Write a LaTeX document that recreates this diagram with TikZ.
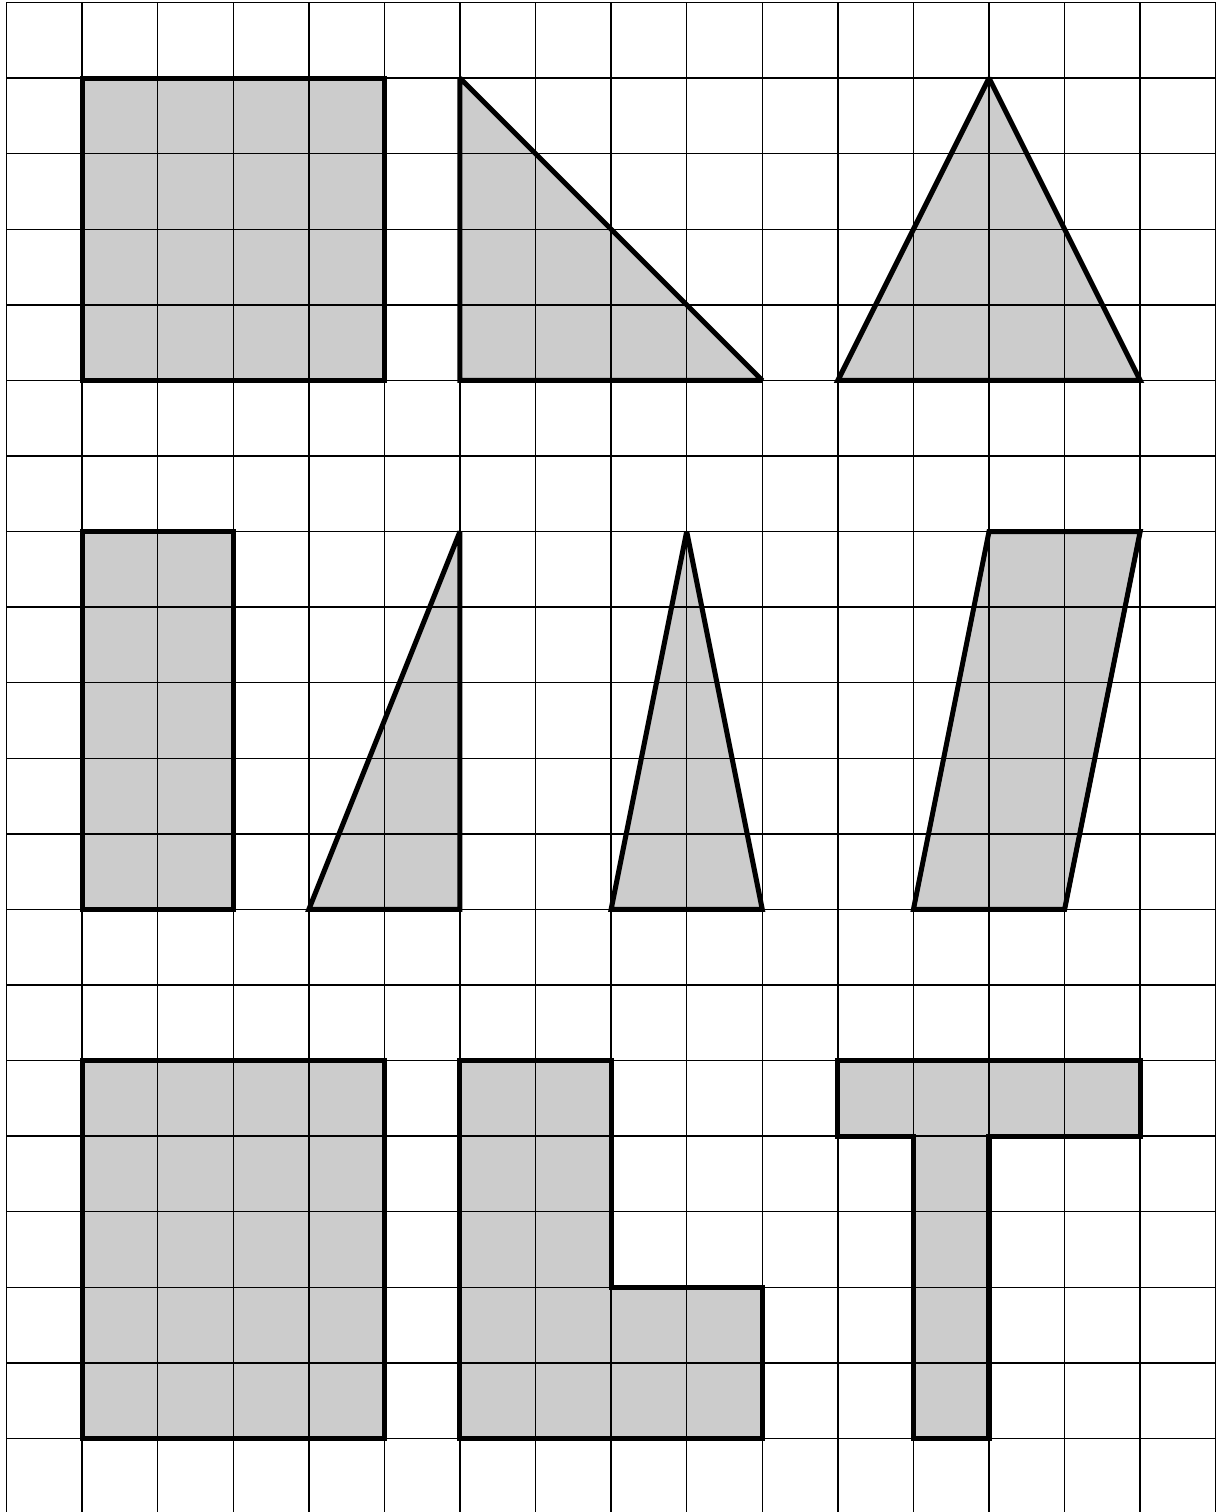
\documentclass[tikz,border=0pt]{standalone}
\begin{document}
\begin{tikzpicture}[x=1cm,y=-1cm,
  shapefill/.style={fill=black!20},
  gridline/.style={draw=black,line width=0.55pt},
  outline/.style={draw=black,line width=1.9pt,miter limit=2}]
\useasboundingbox (-0.086,-0.033) rectangle (16.097,19.973);
\begin{scope}
\clip (-0.086,-0.033) rectangle (16.097,19.973);
% fills
\fill[shapefill] (1,1) rectangle (5,5);
\fill[shapefill] (6,1) -- (6,5) -- (10,5) -- cycle;
\fill[shapefill] (11,5) -- (13,1) -- (15,5) -- cycle;
\fill[shapefill] (1,7) rectangle (3,12);
\fill[shapefill] (4,12) -- (6,7) -- (6,12) -- cycle;
\fill[shapefill] (8,12) -- (9,7) -- (10,12) -- cycle;
\fill[shapefill] (12,12) -- (13,7) -- (15,7) -- (14,12) -- cycle;
\fill[shapefill] (1,14) rectangle (5,19);
\fill[shapefill] (6,14) -- (8,14) -- (8,17) -- (10,17) -- (10,19) -- (6,19) -- cycle;
\fill[shapefill] (11,14) -- (15,14) -- (15,15) -- (13,15) -- (13,19) -- (12,19) -- (12,15) -- (11,15) -- cycle;
% grid
\foreach \i in {0,...,16} \draw[gridline] (\i,0) -- (\i,20.5);
\foreach \j in {0,...,19} \draw[gridline] (0,\j) -- (16,\j);
% outlines
\draw[outline] (1,1) rectangle (5,5);
\draw[outline] (6,1) -- (6,5) -- (10,5) -- cycle;
\draw[outline] (11,5) -- (13,1) -- (15,5) -- cycle;
\draw[outline] (1,7) rectangle (3,12);
\draw[outline] (4,12) -- (6,7) -- (6,12) -- cycle;
\draw[outline] (8,12) -- (9,7) -- (10,12) -- cycle;
\draw[outline] (12,12) -- (13,7) -- (15,7) -- (14,12) -- cycle;
\draw[outline] (1,14) rectangle (5,19);
\draw[outline] (6,14) -- (8,14) -- (8,17) -- (10,17) -- (10,19) -- (6,19) -- cycle;
\draw[outline] (11,14) -- (15,14) -- (15,15) -- (13,15) -- (13,19) -- (12,19) -- (12,15) -- (11,15) -- cycle;
\end{scope}
\end{tikzpicture}
\end{document}
